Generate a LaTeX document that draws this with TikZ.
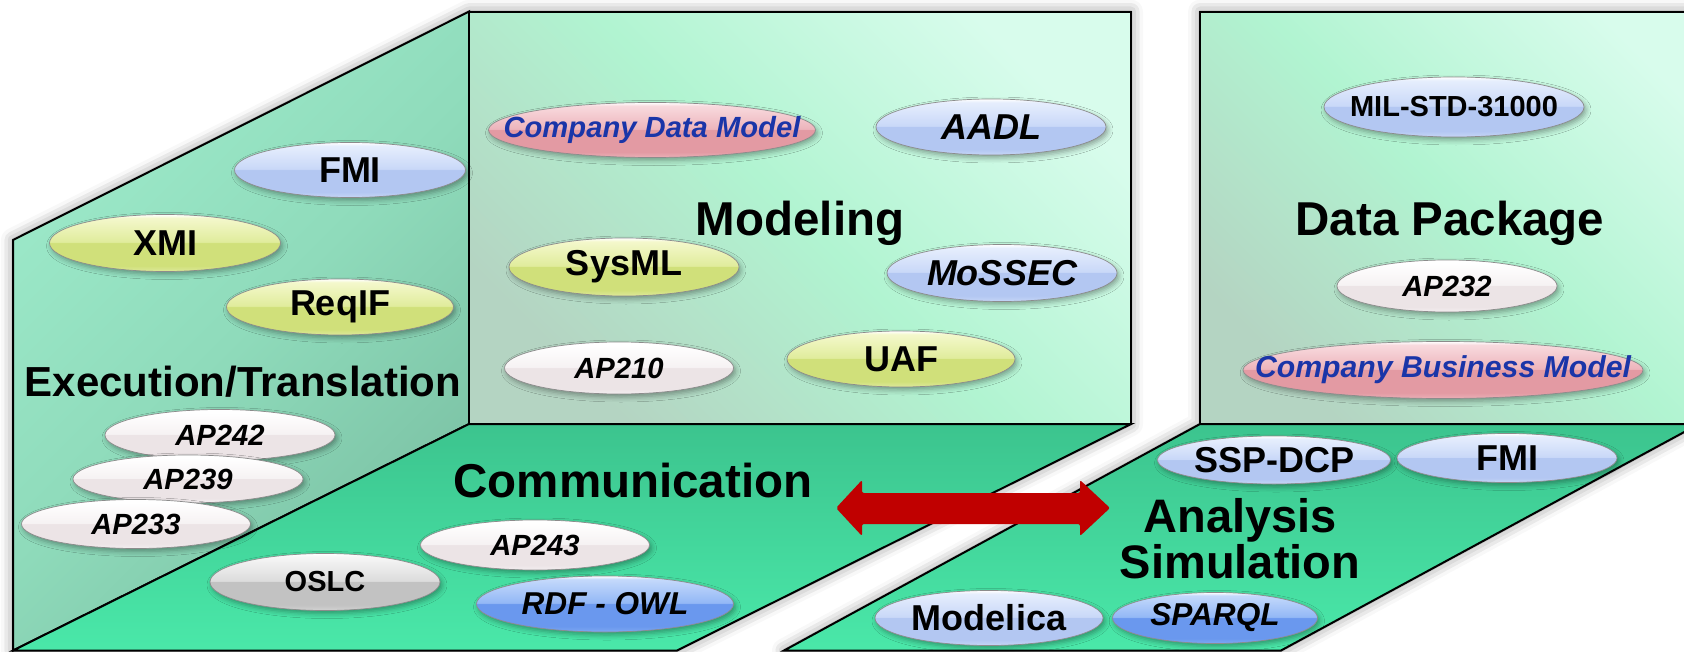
\documentclass[tikz,border=0pt]{standalone}
\usepackage{fontspec}
\setmainfont{Liberation Sans}
\usetikzlibrary{shapes.geometric,shadows.blur}

% panel colours
\definecolor{wallTop}{HTML}{D8FCEC}
\definecolor{wallMid}{HTML}{B1F4D1}
\definecolor{wallBot}{HTML}{B4D4C2}
\definecolor{sideTop}{HTML}{9DEACA}
\definecolor{sideMid}{HTML}{8FDBBB}
\definecolor{sideBot}{HTML}{7BC1A4}
\definecolor{floorTop}{HTML}{3CC48E}
\definecolor{floorBot}{HTML}{4AE8A9}
\definecolor{arrowred}{HTML}{C00000}
\definecolor{corpblue}{HTML}{1A35A8}

% pill colours: base, bottom rim, upper band, top
\definecolor{bluB}{HTML}{B3C7F2}\definecolor{bluR}{HTML}{C6D6F6}\definecolor{bluU}{HTML}{C9D8F8}\definecolor{bluT}{HTML}{E6EEFD}
\definecolor{yelB}{HTML}{D0E07A}\definecolor{yelR}{HTML}{DDE99A}\definecolor{yelU}{HTML}{E0EC9C}\definecolor{yelT}{HTML}{F4F8CC}
\definecolor{whtB}{HTML}{ECE4E6}\definecolor{whtR}{HTML}{F3EEF0}\definecolor{whtU}{HTML}{F6F2F3}\definecolor{whtT}{HTML}{FFFFFF}
\definecolor{pnkB}{HTML}{E39AA3}\definecolor{pnkR}{HTML}{EBB0B7}\definecolor{pnkU}{HTML}{EDB5BC}\definecolor{pnkT}{HTML}{F8DADE}
\definecolor{gryB}{HTML}{C2C2C2}\definecolor{gryR}{HTML}{D2D2D2}\definecolor{gryU}{HTML}{DCDCDC}\definecolor{gryT}{HTML}{F6F6F6}
\definecolor{dblB}{HTML}{6A98EE}\definecolor{dblR}{HTML}{7EA8F2}\definecolor{dblU}{HTML}{93B8F6}\definecolor{dblT}{HTML}{C4D9FB}

% glossy vertical shadings (25bp = bottom of shape, 75bp = top)
\pgfdeclareverticalshading{glossblu}{100bp}{color(0bp)=(bluR); color(25bp)=(bluR); color(30bp)=(bluB); color(50bp)=(bluB); color(51bp)=(bluU); color(72bp)=(bluT); color(75bp)=(white); color(100bp)=(white)}
\pgfdeclareverticalshading{glossyel}{100bp}{color(0bp)=(yelR); color(25bp)=(yelR); color(30bp)=(yelB); color(50bp)=(yelB); color(51bp)=(yelU); color(72bp)=(yelT); color(75bp)=(white); color(100bp)=(white)}
\pgfdeclareverticalshading{glosswht}{100bp}{color(0bp)=(whtR); color(25bp)=(whtR); color(30bp)=(whtB); color(50bp)=(whtB); color(51bp)=(whtU); color(72bp)=(whtT); color(75bp)=(white); color(100bp)=(white)}
\pgfdeclareverticalshading{glosspnk}{100bp}{color(0bp)=(pnkR); color(25bp)=(pnkR); color(30bp)=(pnkB); color(50bp)=(pnkB); color(51bp)=(pnkU); color(72bp)=(pnkT); color(75bp)=(white); color(100bp)=(white)}
\pgfdeclareverticalshading{glossgry}{100bp}{color(0bp)=(gryR); color(25bp)=(gryR); color(30bp)=(gryB); color(50bp)=(gryB); color(51bp)=(gryU); color(72bp)=(gryT); color(75bp)=(white); color(100bp)=(white)}
\pgfdeclareverticalshading{glossdbl}{100bp}{color(0bp)=(dblR); color(25bp)=(dblR); color(30bp)=(dblB); color(50bp)=(dblB); color(51bp)=(dblU); color(72bp)=(dblT); color(75bp)=(white); color(100bp)=(white)}

\tikzset{
  wallline/.style={draw=black, line width=1pt, line join=miter},
  glow/.style={fill=white, blur shadow={shadow xshift=0pt, shadow yshift=0pt, shadow blur radius=6pt, shadow opacity=45}},
  backwall/.style={wallline, top color=wallTop, bottom color=wallBot, middle color=wallMid, shading angle=-45},
  sidewall/.style={wallline, top color=sideTop, bottom color=sideBot, middle color=sideMid, shading angle=45},
  floorpanel/.style={wallline, top color=floorTop, bottom color=floorBot},
  pill/.style={ellipse, inner sep=0pt, shade, draw=black!45, line width=0.35pt,
    blur shadow={shadow xshift=1pt, shadow yshift=-1.5pt, shadow blur radius=2.5pt, shadow opacity=35}},
  pillblu/.style={pill, shading=glossblu},
  pillyel/.style={pill, shading=glossyel},
  pillwht/.style={pill, shading=glosswht},
  pillpnk/.style={pill, shading=glosspnk},
  pillgry/.style={pill, shading=glossgry},
  pilldbl/.style={pill, shading=glossdbl},
  sz/.style 2 args={minimum width=#1*0.5pt, minimum height=#2*0.5pt},
  txbig/.style={font=\fontsize{18}{18}\selectfont\bfseries, inner sep=0pt},
  txbigit/.style={font=\fontsize{18}{18}\selectfont\bfseries\itshape, inner sep=0pt},
  txsm/.style={font=\fontsize{14.5}{15}\selectfont\bfseries, inner sep=0pt},
  txsmit/.style={font=\fontsize{14.6}{15}\selectfont\bfseries\itshape, inner sep=0pt},
  txmdit/.style={font=\fontsize{15.8}{16}\selectfont\bfseries\itshape, inner sep=0pt},
  title/.style={font=\fontsize{23.75}{24}\selectfont\bfseries, anchor=base, inner sep=0pt},
}

\begin{document}
\begin{tikzpicture}[x=0.5pt, y=-0.5pt]
\useasboundingbox (0,0) rectangle (1684,652);
\clip (0,0) rectangle (1684,652);

% soft glow behind the two panel groups
\path[glow] (13,240) -- (469,11.6) -- (1131,11.6) -- (1131,424) -- (677,650.5) -- (13,650.5) -- cycle;
\path[glow] (1200,11.6) -- (1740,11.6) -- (1740,424) -- (1699,424) -- (1281,650.5) -- (784,650.5) -- (1200,424) -- cycle;

% left group: side wall, back wall, floor
\path[sidewall] (13,240) -- (469,11.6) -- (469,424) -- (13,650.5) -- cycle;
\path[backwall] (469,11.6) rectangle (1131,424);
\path[floorpanel] (469,424) -- (1131,424) -- (677,650.5) -- (13,650.5) -- cycle;

% right group: wall and floor
\path[backwall] (1200,11.6) rectangle (1740,424);
\path[floorpanel] (1200,424) -- (1699,424) -- (1281,650.5) -- (784,650.5) -- cycle;

% Execution/Translation wall
\node[pillblu, sz={231}{55}, label={[txbig]center:FMI}] (fmiA) at (350,170) {};
\node[pillyel, sz={231}{57}, label={[txbig]center:XMI}] (xmi) at (165,243) {};
\node[pillyel, sz={227}{56}, label={[txbig]center:ReqIF}] (reqif) at (340,307) {};
\node[font=\fontsize{21}{21}\selectfont\bfseries, anchor=base, inner sep=0pt] (exec) at (243,396) {Execution/Translation};
\node[pillwht, sz={230}{51}, label={[txsmit]center:AP242}] (apA) at (220,435) {};
\node[pillwht, sz={230}{48}, label={[txsmit]center:AP239}] (apB) at (188,479) {};
\node[pillwht, sz={229}{49}, label={[txsmit]center:AP233}] (apC) at (136,524) {};

% Modeling wall
\node[pillpnk, sz={327}{55}, label={[txsmit, text=corpblue]center:Company Data Model}] (cdm) at (652,130) {};
\node[pillblu, sz={230}{56}, label={[txbigit]center:AADL}] (aadl) at (991,127) {};
\node[title] (modeling) at (800,235) {Modeling};
\node[pillyel, sz={230}{58}, label={[txbig]center:SysML}] (sysml) at (624,267) {};
\node[pillblu, sz={230}{57}, label={[txbigit]center:MoSSEC}] (mossec) at (1002,273) {};
\node[pillwht, sz={229}{52}, label={[txsmit]center:AP210}] (apD) at (619,368) {};
\node[pillyel, sz={228}{56}, label={[txbig]center:UAF}] (uaf) at (901,359) {};

% Data Package wall
\node[pillblu, sz={260}{60}, label={[txsm]center:MIL-STD-31000}] (milstd) at (1454,107) {};
\node[title] (datapkg) at (1450,235) {Data Package};
\node[pillwht, sz={220}{52}, label={[txsmit]center:AP232}] (apE) at (1447,286) {};
\node[pillpnk, sz={400}{57}, label={[font=\fontsize{15.1}{15}\selectfont\bfseries\itshape, inner sep=0pt, text=corpblue]center:Company Business Model}] (cbm) at (1443,370) {};

% Communication floor
\node[title] (comm) at (633,497) {Communication};
\node[pillwht, sz={229}{50}, label={[txsmit]center:AP243}] (apF) at (535,545) {};
\node[pillgry, sz={230}{57}, label={[txsm]center:OSLC}] (oslc) at (325,582) {};
\node[pilldbl, sz={257}{56}, label={[txmdit]center:RDF - OWL}] (rdf) at (605,604) {};

% Analysis/Simulation floor
\node[pillblu, sz={233}{48}, label={[txbig]center:SSP-DCP}] (ssp) at (1274,460) {};
\node[pillblu, sz={220}{49}, label={[txbig]center:FMI}] (fmiB) at (1507,458) {};
\node[title, font=\fontsize{23.5}{24}\selectfont\bfseries] (analysis) at (1240,532) {Analysis};
\node[title, font=\fontsize{23.5}{24}\selectfont\bfseries] (simulation) at (1240,578) {Simulation};
\node[pillblu, sz={228}{55}, label={[txbig]center:Modelica}] (modelica) at (989,618) {};
\node[pilldbl, sz={205}{51}, label={[txmdit]center:SPARQL}] (sparql) at (1215,618) {};

% exchange arrow between the two floors
\fill[arrowred, rounded corners=1pt] (836,508) -- (862,480) -- (862,493) -- (1080,493) -- (1080,480)
  -- (1110,508) -- (1080,536) -- (1080,524) -- (862,524) -- (862,536) -- cycle;
\end{tikzpicture}
\end{document}
